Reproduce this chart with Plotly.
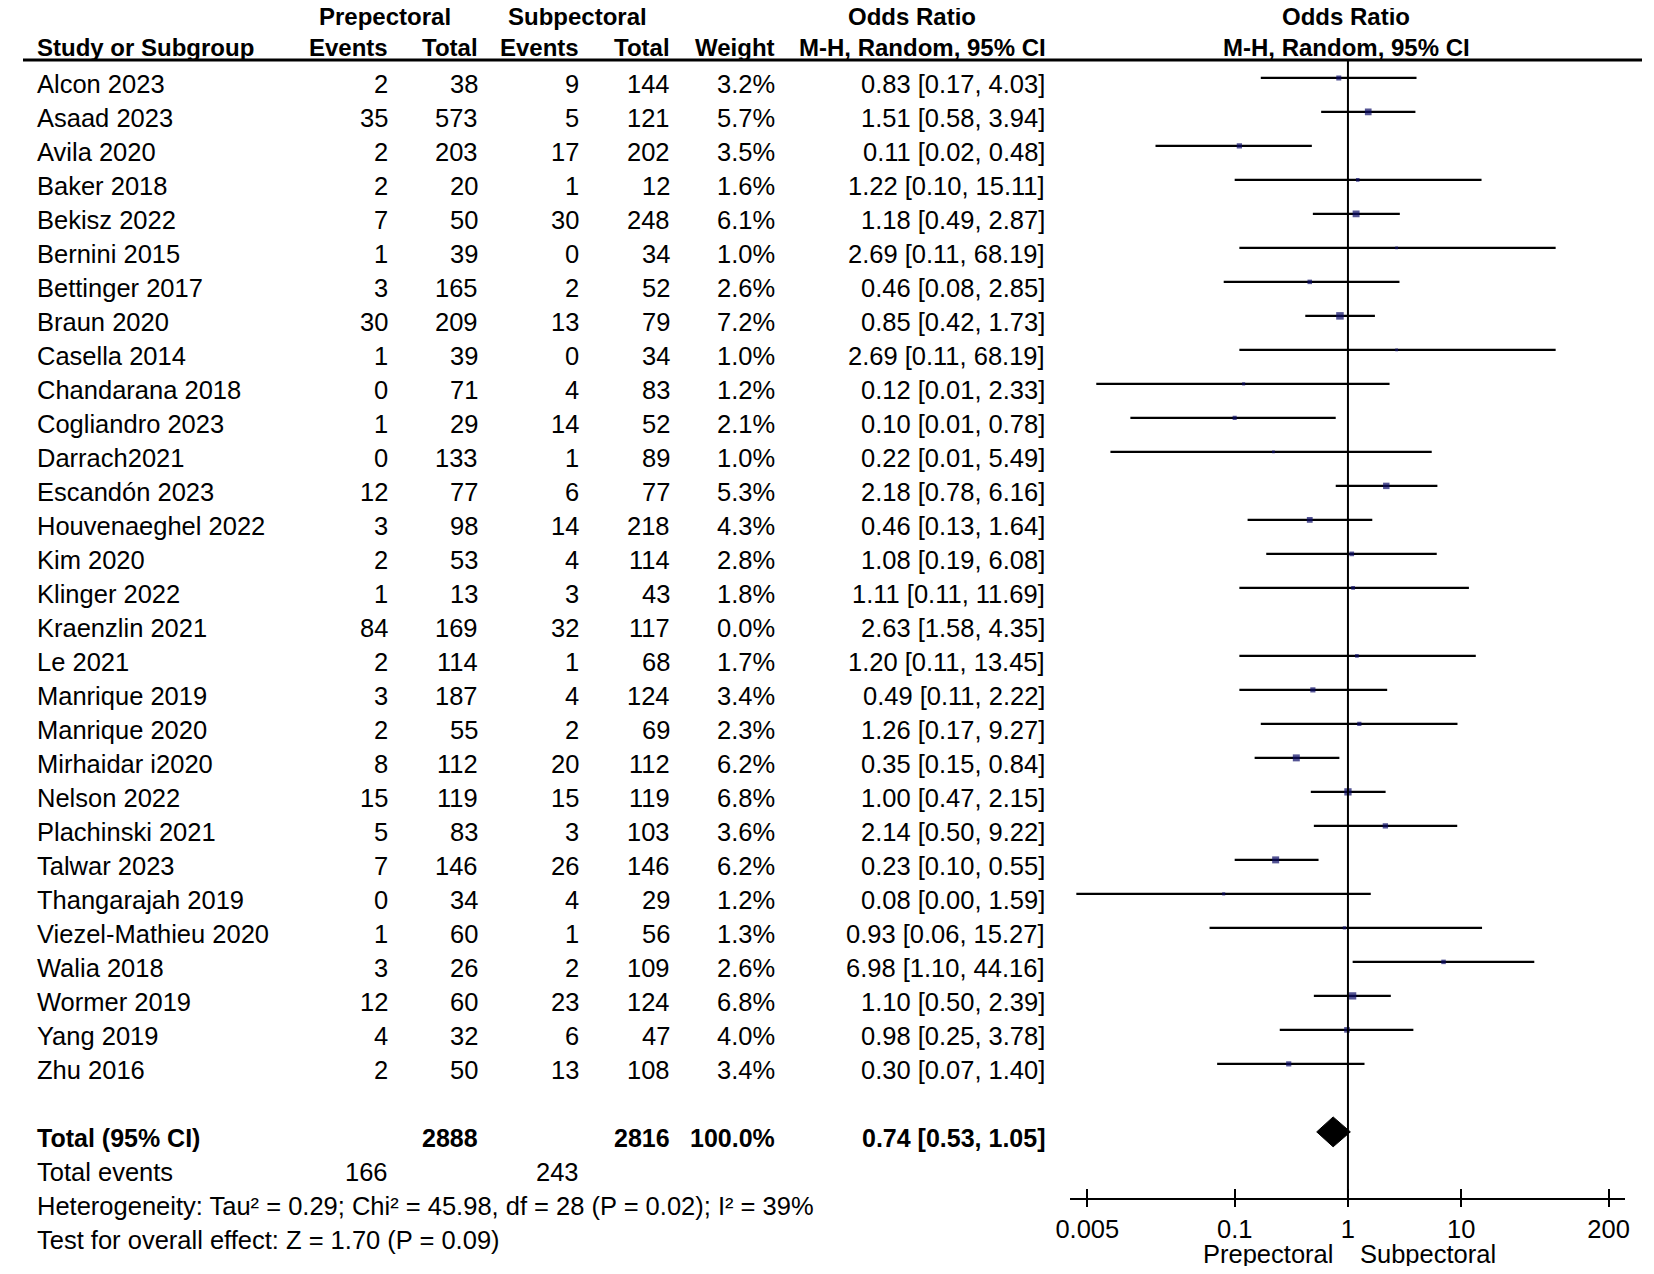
#!/usr/bin/env python3

import plotly.graph_objects as go

# Data
studies = ["Alcon 2023", "Asaad 2023", "Avila 2020", "Baker 2018", "Bekisz 2022",
           "Bernini 2015", "Bettinger 2017", "Braun 2020", "Casella 2014", "Chandarana 2018",
           "Cogliandro 2023", "Darrach2021", "Escandón 2023", "Houvenaeghel 2022", "Kim 2020",
           "Klinger 2022", "Kraenzlin 2021", "Le 2021", "Manrique 2019", "Manrique 2020",
           "Mirhaidar i2020", "Nelson 2022", "Plachinski 2021", "Talwar 2023", "Thangarajah 2019",
           "Viezel-Mathieu 2020", "Walia 2018", "Wormer 2019", "Yang 2019", "Zhu 2016"]
pre_events = [2, 35, 2, 2, 7, 1, 3, 30, 1, 0, 1, 0, 12, 3, 2, 1, 84, 2, 3, 2, 8, 15, 5, 7, 0, 1, 3, 12, 4, 2]
pre_total = [38, 573, 203, 20, 50, 39, 165, 209, 39, 71, 29, 133, 77, 98, 53, 13, 169, 114, 187, 55,
             112, 119, 83, 146, 34, 60, 26, 60, 32, 50]
sub_events = [9, 5, 17, 1, 30, 0, 2, 13, 0, 4, 14, 1, 6, 14, 4, 3, 32, 1, 4, 2, 20, 15, 3, 26, 4, 1, 2, 23, 6, 13]
sub_total = [144, 121, 202, 12, 248, 34, 52, 79, 34, 83, 52, 89, 77, 218, 114, 43, 117, 68, 124, 69,
             112, 119, 103, 146, 29, 56, 109, 124, 47, 108]
weight = [3.2, 5.7, 3.5, 1.6, 6.1, 1.0, 2.6, 7.2, 1.0, 1.2, 2.1, 1.0, 5.3, 4.3, 2.8, 1.8, 0.0, 1.7, 3.4, 2.3,
          6.2, 6.8, 3.6, 6.2, 1.2, 1.3, 2.6, 6.8, 4.0, 3.4]
odds = [0.83, 1.51, 0.11, 1.22, 1.18, 2.69, 0.46, 0.85, 2.69, 0.12, 0.10, 0.22, 2.18, 0.46, 1.08, 1.11, 2.63,
        1.20, 0.49, 1.26, 0.35, 1.00, 2.14, 0.23, 0.08, 0.93, 6.98, 1.10, 0.98, 0.30]
ci_low = [0.17, 0.58, 0.02, 0.10, 0.49, 0.11, 0.08, 0.42, 0.11, 0.006, 0.012, 0.008, 0.78, 0.13, 0.19, 0.11,
          1.58, 0.11, 0.11, 0.17, 0.15, 0.47, 0.50, 0.10, 0.004, 0.06, 1.10, 0.50, 0.25, 0.07]
ci_high = [4.03, 3.94, 0.48, 15.11, 2.87, 68.19, 2.85, 1.73, 68.19, 2.33, 0.78, 5.49, 6.16, 1.64, 6.08, 11.69,
           4.35, 13.45, 2.22, 9.27, 0.84, 2.15, 9.22, 0.55, 1.59, 15.27, 44.16, 2.39, 3.78, 1.40]

total_pre, total_sub = 2888, 2816
events_pre, events_sub = 166, 243
pooled_or, pooled_lo, pooled_hi = 0.74, 0.53, 1.05
tick_vals = [0.005, 0.1, 1, 10, 200]
tick_text = ["0.005", "0.1", "1", "10", "200"]

# the page puts the figure 8px in from the top-left corner; keep it inside the window
OFF = 8
W, H = 1654 - 2 * OFF, 1274 - 2 * OFF
ROW0, ROWH = 84, 34.0          # pixel centre of first row, row height
Y_TOP, Y_AXIS = 60, 1198       # header rule and x-axis line in pixels
y_top = (Y_TOP - ROW0) / ROWH
y_bot = (Y_AXIS - ROW0) / ROWH
total_row = len(studies) + 1
mark_off = -0.18

FONT = "Liberation Sans, Arial, sans-serif"
FS = 25.5     # body text
FH = 24       # bold header text
FT = 25       # bold total row

fig = go.Figure()

# confidence interval lines and weight boxes (Kraenzlin has 0% weight and no marks)
for i in range(len(studies)):
    if weight[i] <= 0:
        continue
    fig.add_trace(go.Scatter(
        x=[ci_low[i], ci_high[i]], y=[i + mark_off, i + mark_off],
        mode='lines', line=dict(color='black', width=2.2),
        hoverinfo='skip', showlegend=False
    ))
fig.add_trace(go.Scatter(
    x=[odds[i] for i in range(len(studies)) if weight[i] > 0],
    y=[i + mark_off for i in range(len(studies)) if weight[i] > 0],
    mode='markers',
    marker=dict(symbol='square', color='#0b0b66',
                size=[2.8 * w ** 0.5 for w in weight if w > 0], line=dict(width=0)),
    showlegend=False, hoverinfo='skip'
))

# pooled diamond
dy = 0.44
yc = total_row - 0.18
fig.add_trace(go.Scatter(
    x=[pooled_lo, pooled_or, pooled_hi, pooled_or, pooled_lo],
    y=[yc, yc - dy, yc, yc + dy, yc],
    mode='lines', fill='toself', fillcolor='black',
    line=dict(color='black', width=1), showlegend=False, hoverinfo='skip'
))

# line of no effect
fig.add_trace(go.Scatter(
    x=[1, 1], y=[y_top, y_bot], mode='lines',
    line=dict(color='black', width=2), showlegend=False, hoverinfo='skip'
))


def px(x):
    return (x - OFF) / W


def py_(y):
    return 1 - (y - OFF) / H


ann = []


def cell(text, x, y, anchor='right', size=FS, bold=False, yref='y'):
    ann.append(dict(
        text=text, x=px(x), y=y, xref='paper', yref=yref,
        xanchor=anchor, yanchor='middle', showarrow=False, borderpad=0,
        font=dict(family=FONT, size=size, color='black', weight=700 if bold else 400)
    ))


def head(text, x, y, anchor='center'):
    cell(text, x, y, anchor, FH, True, 'paper')


# header
hdr1, hdr2 = py_(17), py_(47)
head("Prepectoral", 374, hdr1)
head("Subpectoral", 569, hdr1)
head("Odds Ratio", 907, hdr1)
head("Odds Ratio", 1347, hdr1)
head("Study or Subgroup", 21, hdr2, 'left')
head("Events", 378, hdr2, 'right')
head("Total", 469, hdr2, 'right')
head("Events", 572, hdr2, 'right')
head("Total", 664, hdr2, 'right')
head("Weight", 770, hdr2, 'right')
head("M-H, Random, 95% CI", 918, hdr2)
head("M-H, Random, 95% CI", 1347, hdr2)

# study rows
for i, s in enumerate(studies):
    cell(s, 21, i, 'left')
    cell(str(pre_events[i]), 378, i)
    cell(str(pre_total[i]), 469, i)
    cell(str(sub_events[i]), 572, i)
    cell(str(sub_total[i]), 664, i)
    cell(f"{weight[i]:.1f}%", 770, i)
    cell(f"{odds[i]:.2f} [{ci_low[i]:.2f}, {ci_high[i]:.2f}]", 1043, i)

# totals
cell("Total (95% CI)", 21, total_row, 'left', FT, True)
cell(str(total_pre), 469, total_row, 'right', FT, True)
cell(str(total_sub), 664, total_row, 'right', FT, True)
cell("100.0%", 770, total_row, 'right', FT, True)
cell(f"{pooled_or:.2f} [{pooled_lo:.2f}, {pooled_hi:.2f}]", 1043, total_row, 'right', FT, True)
cell("Total events", 21, total_row + 1, 'left')
cell(str(events_pre), 378, total_row + 1)
cell(str(events_sub), 572, total_row + 1)
cell("Heterogeneity: Tau² = 0.29; Chi² = 45.98, df = 28 (P = 0.02); I² = 39%", 21, py_(1206), 'left', yref='paper')
cell("Test for overall effect: Z = 1.70 (P = 0.09)", 21, py_(1240), 'left', yref='paper')
cell("Prepectoral", 1334, py_(1254), 'right', yref='paper')
cell("Subpectoral", 1360, py_(1254), 'left', yref='paper')

half = 2.45
c = (1348.5 - OFF) / W
dw = half * 114.6 / W
xdomain = [c - dw, c + dw]

fig.update_layout(
    width=W, height=H,
    margin=dict(l=0, r=0, t=0, b=0, pad=0),
    paper_bgcolor='white', plot_bgcolor='white',
    annotations=ann,
    shapes=[dict(type='line', xref='paper', yref='paper', x0=0, x1=1,
                 y0=py_(Y_TOP), y1=py_(Y_TOP), line=dict(color='black', width=3))],
    xaxis=dict(
        type='log', range=[-half, half], domain=xdomain,
        showgrid=False, zeroline=False, showline=True, linecolor='black', linewidth=2,
        ticks='outside', ticklen=7, tickwidth=2, tickcolor='black',
        tickvals=tick_vals, ticktext=tick_text,
        tickfont=dict(family=FONT, size=FS, color='black')
    ),
    xaxis2=dict(
        type='log', range=[-half, half], domain=xdomain, overlaying='x', anchor='y',
        side='bottom', showgrid=False, zeroline=False, showline=False,
        ticks='inside', ticklen=9, tickwidth=2, tickcolor='black',
        tickvals=tick_vals, showticklabels=False
    ),
    yaxis=dict(
        range=[y_bot, y_top], domain=[py_(Y_AXIS), py_(Y_TOP)],
        visible=False, showgrid=False, zeroline=False
    )
)
# invisible trace so the overlay axis with the upper tick halves is drawn
fig.add_trace(go.Scatter(x=[1], y=[y_bot], xaxis='x2', mode='markers',
                         marker=dict(opacity=0), showlegend=False, hoverinfo='skip'))

fig.write_html("out.html")
